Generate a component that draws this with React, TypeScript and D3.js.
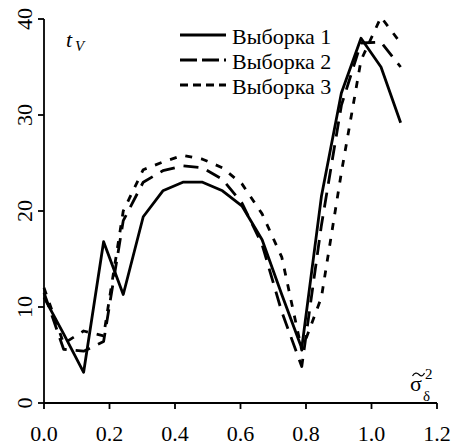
import React from "react";
import * as d3 from "d3";

const xValues = [0, 0.06, 0.121, 0.182, 0.242, 0.303, 0.363, 0.424, 0.484, 0.545, 0.605, 0.666, 0.726, 0.787, 0.847, 0.908, 0.968, 1.029, 1.089];
const series1 = [11, 7.2, 3.2, 16.8, 11.3, 19.4, 22.1, 23, 23, 22.1, 20.5, 17, 11.3, 5.7, 21.5, 32.3, 38, 35, 29.2];
const series2 = [11.5, 5.6, 5.4, 6.4, 19, 23, 24.2, 24.7, 24.5, 23.3, 20.8, 16.5, 9.5, 3.8, 18.5, 31, 37.5, 37.6, 35];
const series3 = [12, 6.2, 7.5, 7.0, 20, 24.3, 25.1, 25.8, 25.4, 24.5, 22.8, 19.7, 15.2, 5.5, 11, 24, 35.7, 40.2, 37.5];
const seriesNames = ["Выборка 1", "Выборка 2", "Выборка 3"];
const xTicks = [0, 0.2, 0.4, 0.6, 0.8, 1.0, 1.2];
const yTicks = [0, 10, 20, 30, 40];

const W = 454;
const H = 447;
const FONT = "'Liberation Serif', 'Times New Roman', 'DejaVu Serif', serif";

export default function App() {
  const x = d3.scaleLinear().domain([0, 1.2]).range([44, 437]);
  const y = d3.scaleLinear().domain([0, 40]).range([403, 19]);
  const allSeries = [series1, series2, series3];
  const plotDash = [null, "15,9", "7,9"];
  const legendDash = [null, "17,5", "8,5"];
  const line = d3
    .line<number>()
    .x((_, i) => x(xValues[i]))
    .y((d) => y(d));
  const ts = { fontFamily: FONT };

  return (
    <svg width={W} height={H} style={{ position: "absolute", left: 0, top: 0, background: "#fff" }}>
      <rect width={W} height={H} fill="#fff" />
      <line x1={x(0)} x2={x(0)} y1={y(40)} y2={y(0)} stroke="#000" strokeWidth={1.8} />
      <line x1={x(0)} x2={x(1.2)} y1={y(0)} y2={y(0)} stroke="#000" strokeWidth={1.8} />
      {yTicks.map((t) => (
        <g key={"y" + t}>
          <line x1={x(0) - 6} x2={x(0)} y1={y(t)} y2={y(t)} stroke="#000" strokeWidth={1.8} />
          <text transform={`translate(32,${y(t)}) rotate(-90)`} textAnchor="middle" fontSize={22} fill="#000" style={ts}>
            {String(t)}
          </text>
        </g>
      ))}
      {xTicks.map((t) => (
        <g key={"x" + t}>
          <line x1={x(t)} x2={x(t)} y1={y(0)} y2={y(0) + 6} stroke="#000" strokeWidth={1.8} />
          <text x={x(t)} y={441} textAnchor="middle" fontSize={22} fill="#000" style={ts}>
            {t.toFixed(1)}
          </text>
        </g>
      ))}
      {allSeries.map((s, i) => (
        <path key={"s" + i} d={line(s) || ""} fill="none" stroke="#000" strokeWidth={2.8} strokeLinejoin="round" strokeDasharray={plotDash[i] || undefined} />
      ))}
      {seriesNames.map((n, i) => (
        <g key={"l" + i}>
          <line x1={180} x2={226} y1={35 + i * 25} y2={35 + i * 25} stroke="#000" strokeWidth={3} strokeDasharray={legendDash[i] || undefined} />
          <text x={232} y={44 + i * 25} fontSize={22} fill="#000" style={ts}>
            {n}
          </text>
        </g>
      ))}
      <text x={66} y={47} fontSize={22} fontStyle="italic" fill="#000" style={ts}>t</text>
      <text x={75} y={51} fontSize={15} fontStyle="italic" fill="#000" style={ts}>V</text>
      <text x={410} y={391} fontSize={22} fill="#000" style={ts}>σ</text>
      <path d="M412.5,376 C414.5,372.5 417,372.5 419,374.5 C421,376.5 423,376.5 424.5,373" fill="none" stroke="#000" strokeWidth={1.2} />
      <text x={425} y={379} fontSize={15} fill="#000" style={ts}>2</text>
      <text x={423} y={401} fontSize={15} fill="#000" style={ts}>δ</text>
    </svg>
  );
}
